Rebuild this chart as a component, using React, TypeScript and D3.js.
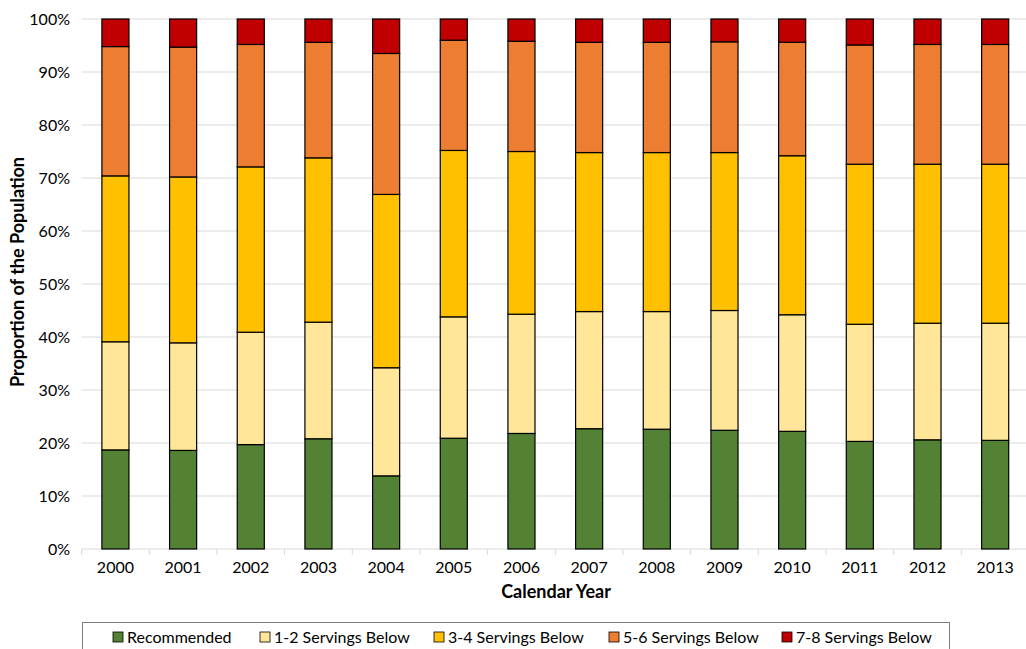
import React from "react";
import * as d3 from "d3";

const years = ["2000", "2001", "2002", "2003", "2004", "2005", "2006", "2007", "2008", "2009", "2010", "2011", "2012", "2013"];
const seriesNames = ["Recommended", "1-2 Servings Below", "3-4 Servings Below", "5-6 Servings Below", "7-8 Servings Below"];
const seriesColors = ["#548235", "#FFE699", "#FFC000", "#ED7D31", "#C00000"];

// shares in percent, per year
const recommended = [18.7, 18.6, 19.7, 20.8, 13.8, 20.9, 21.8, 22.7, 22.6, 22.4, 22.2, 20.3, 20.6, 20.5];
const below12 = [20.4, 20.3, 21.2, 22.0, 20.4, 22.9, 22.5, 22.1, 22.2, 22.6, 22.0, 22.1, 22.0, 22.1];
const below34 = [31.3, 31.3, 31.2, 31.0, 32.7, 31.4, 30.7, 30.0, 30.0, 29.8, 30.0, 30.2, 30.0, 30.0];
const below56 = [24.4, 24.5, 23.1, 21.8, 26.6, 20.8, 20.8, 20.8, 20.8, 20.9, 21.4, 22.5, 22.6, 22.6];
const below78 = [5.2, 5.3, 4.8, 4.4, 6.5, 4.0, 4.2, 4.4, 4.4, 4.3, 4.4, 4.9, 4.8, 4.8];

const yTicks = [0, 10, 20, 30, 40, 50, 60, 70, 80, 90, 100];

const font = "Lato, 'Open Sans', sans-serif";

export default function App() {
  const W = 1026;
  const H = 649;
  const left = 81.6;
  const right = 1029;
  const top = 19;
  const bottom = 549;

  const rows = years.map((y, i) => ({
    year: y,
    s0: recommended[i],
    s1: below12[i],
    s2: below34[i],
    s3: below56[i],
    s4: below78[i],
  }));
  const keys = ["s0", "s1", "s2", "s3", "s4"];
  const stacked = d3.stack<any>().keys(keys)(rows);

  const x = d3.scaleBand().domain(years).range([left, right]).paddingInner(0.6).paddingOuter(0.3);
  const xStep = d3.scaleBand().domain(years).range([left, right]);
  const y = d3.scaleLinear().domain([0, 100]).range([bottom, top]);

  const legendX = [113, 260, 434, 609, 782];

  return (
    <svg width={W} height={H} style={{ position: "absolute", left: 0, top: 0, background: "#fff" }}>
      {yTicks.map((t) => (
        <g key={t}>
          {t > 0 && <line x1={left} x2={W} y1={y(t)} y2={y(t)} stroke="#d9d9d9" strokeWidth={1} />}
          <text x={70} y={y(t)} dy="0.35em" textAnchor="end" fontFamily={font} fontSize={16} fill="#000">
            {t}%
          </text>
        </g>
      ))}
      <line x1={left} x2={W} y1={bottom} y2={bottom} stroke="#d9d9d9" strokeWidth={1} />
      {years.map((yr) => (
        <line key={yr} x1={xStep(yr)!} x2={xStep(yr)!} y1={bottom} y2={bottom + 6} stroke="#d9d9d9" />
      ))}
      {stacked.map((layer, li) => (
        <g key={li} fill={seriesColors[li]} stroke="#000" strokeWidth={1.2}>
          {layer.map((d: any) => (
            <rect
              key={d.data.year}
              x={x(d.data.year)!}
              width={x.bandwidth()}
              y={y(d[1])}
              height={y(d[0]) - y(d[1])}
            />
          ))}
        </g>
      ))}
      {years.map((yr) => (
        <text key={yr} x={xStep(yr)! + xStep.bandwidth() / 2} y={573} textAnchor="middle" fontFamily={font} fontSize={16} fill="#000">
          {yr}
        </text>
      ))}
      <text x={556} y={598} textAnchor="middle" fontFamily={font} fontSize={18} fontWeight="bold" fill="#000">
        Calendar Year
      </text>
      <text transform={`translate(24,${(top + bottom) / 2 - 12}) rotate(-90)`} textAnchor="middle" fontFamily={font} fontSize={18} fontWeight="bold" fill="#000">
        Proportion of the Population
      </text>
      <rect x={82.5} y={622.5} width={867} height={40} fill="#fff" stroke="#7f7f7f" strokeWidth={1} />
      {seriesNames.map((n, i) => (
        <g key={n}>
          <rect x={legendX[i]} y={632} width={10} height={10} fill={seriesColors[i]} stroke="#000" strokeWidth={0.8} />
          <text x={legendX[i] + 14} y={637} dy="0.35em" fontFamily={font} fontSize={16} fill="#000">
            {n}
          </text>
        </g>
      ))}
    </svg>
  );
}
